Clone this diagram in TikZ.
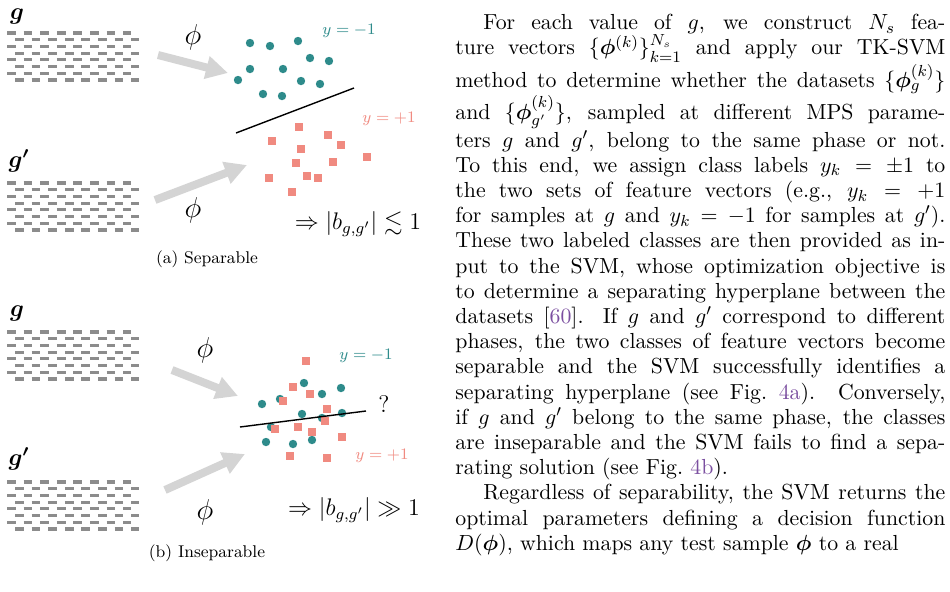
\documentclass[tikz,border=0pt]{standalone}
\usepackage{amsmath,amssymb,bm}
\usetikzlibrary{arrows.meta}
\definecolor{teal1}{HTML}{2E8B8B}
\definecolor{salm}{HTML}{F08A80}
\definecolor{linkc}{HTML}{7B4FA0}
\newcommand{\lk}[1]{\textcolor{linkc}{#1}}
\tikzset{
  dot/.style={circle,fill=teal1,inner sep=0pt,minimum size=4.2pt},
  sq/.style={rectangle,fill=salm,inner sep=0pt,minimum size=3.6pt},
  bigarrow/.style={line width=4pt,draw=black!17,-{Triangle[length=11pt,width=11pt]}},
  chain/.style={line width=1.6pt,draw=black!45,dash pattern=on 4.4pt off 3.9pt},
  sep/.style={line width=0.7pt,draw=black},
  captxt/.style={font=\fontsize{8.5}{10}\selectfont},
}
\begin{document}
\begin{tikzpicture}[x=0.5pt,y=-0.5pt]
\useasboundingbox (0,0) rectangle (950,591);
% chain blocks
\newcommand{\chains}[1]{%
  \foreach \i in {0,...,7}{%
    \pgfmathsetmacro{\yy}{#1+\i*6.7}%
    \pgfmathsetmacro{\xx}{mod(\i,2)==0?7:15}%
    \draw[chain] (\xx,\yy) -- ++(124,0);}}
\chains{33}\chains{183}\chains{332}\chains{482}
\node (g1) at (17,16) {\large$\bm g$};
\node (g2) at (19,161) {\large$\bm{g'}$};
\node (g3) at (17,313) {\large$\bm g$};
\node (g4) at (19,459) {\large$\bm{g'}$};
% panel a
\coordinate (a1s) at (158,55); \coordinate (a1e) at (228,73);
\coordinate (a2s) at (155,200); \coordinate (a2e) at (247,165);
\draw[bigarrow] (a1s) -- (a1e);
\draw[bigarrow] (a2s) -- (a2e);
\node (pa1) at (193,37) {\Large$\phi$};
\node (pa2) at (193,210) {\Large$\phi$};
\foreach \x/\y [count=\k] in {250/43,270/46,298/41,310/58,329/61,250/69,283/69,238/80,301/81,320/84,263/94,282/96}
  \node[dot] (da\k) at (\x,\y) {};
\foreach \x/\y [count=\k] in {299/127,328/135,272/141,301/149,341/145,296/163,333/162,367/157,269/178,307/176,318/178,292/192}
  \node[sq] (sa\k) at (\x,\y) {};
\coordinate (la1) at (236,133); \coordinate (la2) at (354,88);
\draw[sep] (la1) -- (la2);
\node[text=teal1,font=\footnotesize] (ya1) at (349,31) {$y=-1$};
\node[text=salm,font=\footnotesize] (ya2) at (389,119) {$y=+1$};
\node (ra) at (358,224) {\large$\Rightarrow|b_{g,g'}|\lesssim 1$};
\node[captxt] (ca) at (207,259) {(a) Separable};
% panel b
\coordinate (b1s) at (172,370); \coordinate (b1e) at (238,396);
\coordinate (b2s) at (165,490); \coordinate (b2e) at (245,454);
\draw[bigarrow] (b1s) -- (b1e);
\draw[bigarrow] (b2s) -- (b2e);
\node (pb1) at (205,350) {\Large$\phi$};
\node (pb2) at (205,512) {\Large$\phi$};
\foreach \x/\y [count=\k] in {304/383,322/394,341/388,262/404,280/399,302/414,342/413,271/427,266/442,293/444,312/440,322/418}
  \node[dot] (db\k) at (\x,\y) {};
\foreach \x/\y [count=\k] in {306/361,293/387,310/394,283/401,327/409,325/421,298/427,275/429,312/432,342/437,290/456,327/458}
  \node[sq] (sb\k) at (\x,\y) {};
\coordinate (lb1) at (240,427); \coordinate (lb2) at (366,411);
\draw[sep] (lb1) -- (lb2);
\node (q) at (384,404) {\large ?};
\node[text=teal1,font=\footnotesize] (yb1) at (366,356) {$y=-1$};
\node[text=salm,font=\footnotesize] (yb2) at (382,456) {$y=+1$};
\node (rb) at (354,510) {\large$\Rightarrow|b_{g,g'}|\gg 1$};
\node[captxt] (cb) at (207,553) {(b) Inseparable};
% text column
\node[anchor=north west,text width=245pt,align=justify,inner sep=0pt,
  font=\fontsize{10.9}{12.6}\selectfont] (txt) at (455,14) {%
\hspace*{14pt}For each value of $g$, we construct $N_s$ fea-\linebreak
ture vectors $\{\bm\phi^{(k)}\}_{k=1}^{N_s}$ and apply our TK-SVM\linebreak
method to determine whether the datasets $\{\bm\phi_g^{(k)}\}$\linebreak
and $\{\bm\phi_{g'}^{(k)}\}$, sampled at different MPS parame-\linebreak
ters $g$ and $g'$, belong to the same phase or not.\linebreak
To this end, we assign class labels $y_k=\pm1$ to\linebreak
the two sets of feature vectors (e.g., $y_k=+1$\linebreak
for samples at $g$ and $y_k=-1$ for samples at $g'$).\linebreak
These two labeled classes are then provided as in-\linebreak
put to the SVM, whose optimization objective is\linebreak
to determine a separating hyperplane between the\linebreak
datasets [\lk{60}]. If $g$ and $g'$ correspond to different\linebreak
phases, the two classes of feature vectors become\linebreak
separable and the SVM successfully identifies a\linebreak
separating hyperplane (see Fig.~\lk{4a}). Conversely,\linebreak
if $g$ and $g'$ belong to the same phase, the classes\linebreak
are inseparable and the SVM fails to find a sepa-\linebreak
rating solution (see Fig.~\lk{4b}).\par
\hspace*{14pt}Regardless of separability, the SVM returns the\linebreak
optimal parameters defining a decision function\linebreak
$D(\bm\phi)$, which maps any test sample $\bm\phi$ to a real\par};
\end{tikzpicture}
\end{document}
